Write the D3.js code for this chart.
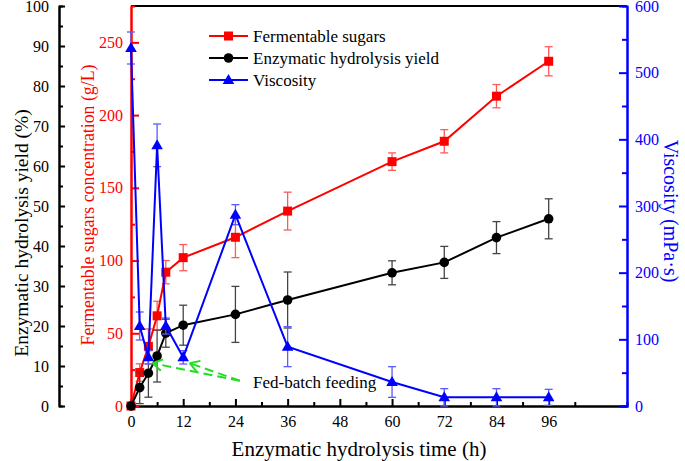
<!DOCTYPE html>
<html><head><meta charset="utf-8">
<script src="https://cdn.jsdelivr.net/npm/d3@7"></script>
<style>body{margin:0;background:#fff}svg{display:block}</style>
</head><body><div id="c"></div>
<script>
const times = [0, 2, 4, 6, 8, 12, 24, 36, 60, 72, 84, 96];
const sugars = [0, 23, 41, 62, 92, 102, 116, 134, 168, 182, 213, 237];
const sugarsErr = [0, 6, 12, 10, 8, 9, 14, 13, 6, 8, 8, 10];
const yieldVals = [0, 4.6, 8.2, 12.5, 18.2, 20.2, 22.9, 26.5, 33.3, 35.9, 42.1, 46.8];
const yieldErr = [0, 4, 6, 6.5, 3.5, 5, 7, 7, 3, 4, 4, 5];
const viscosity = [537, 120, 73, 391, 120, 73, 287, 89, 36, 13, 13, 13];
const viscosityErr = [24, 21, 10, 32, 12, 10, 15, 30, 23, 13, 13, 12];
const xTicks = [0, 12, 24, 36, 48, 60, 72, 84, 96];
const yieldTicks = [0,10,20,30,40,50,60,70,80,90,100];
const sugarTicks = [0,50,100,150,200,250];
const viscTicks = [0,100,200,300,400,500,600];
const legendNames = ["Fermentable sugars", "Enzymatic hydrolysis yield", "Viscosity"];
const annotation = "Fed-batch feeding";

const FONT = 'Liberation Serif, DejaVu Serif, Noto Serif, Times, serif';
const W = 685, H = 461;
const L = 131, R = 627, T = 6, B = 406;
const svg = d3.select("#c").append("svg").attr("width", W).attr("height", H)
  .attr("font-family", FONT);

const x = d3.scaleLinear().domain([0, 114]).range([L, R]);
const yY = d3.scaleLinear().domain([0, 100]).range([B, T]);
const yS = d3.scaleLinear().domain([0, 275]).range([B, T]);
const yV = d3.scaleLinear().domain([0, 600]).range([B, T]);

const RED = "#ff0000", BLUE = "#0000ff", BLACK = "#000";

function styleAxis(g, color, fs) {
  g.attr("font-family", FONT).attr("font-size", fs);
  g.selectAll("path.domain").attr("stroke", color).attr("stroke-width", 2);
  g.selectAll(".tick line").attr("stroke", color).attr("stroke-width", 2);
  g.selectAll(".tick text").attr("fill", color).attr("font-family", FONT).attr("font-size", fs);
}

svg.append("line").attr("x1", L).attr("x2", R).attr("y1", T).attr("y2", T).attr("stroke", BLACK).attr("stroke-width", 2);

const gxm = svg.append("g").attr("transform", `translate(0,${B})`)
  .call(d3.axisBottom(x).tickValues(d3.range(6, 114, 12)).tickSize(-4).tickFormat(""));
styleAxis(gxm, BLACK, 16);
const gx = svg.append("g").attr("transform", `translate(0,${B})`)
  .call(d3.axisBottom(x).tickValues(xTicks).tickSize(-7).tickSizeOuter(0));
gx.selectAll(".tick text").attr("y", 10);
styleAxis(gx, BLACK, 16);

const AX = 59;
const gym = svg.append("g").attr("transform", `translate(${AX},0)`)
  .call(d3.axisLeft(yY).tickValues(d3.range(5, 100, 10)).tickSize(-4).tickFormat(""));
styleAxis(gym, BLACK, 16);
const gy = svg.append("g").attr("transform", `translate(${AX},0)`)
  .call(d3.axisLeft(yY).tickValues(yieldTicks).tickSize(-6).tickSizeOuter(0));
gy.selectAll(".tick text").attr("x", -10);
styleAxis(gy, BLACK, 16);

const gsm = svg.append("g").attr("transform", `translate(${L},0)`)
  .call(d3.axisLeft(yS).tickValues(d3.range(25, 275, 50)).tickSize(-4).tickFormat(""));
styleAxis(gsm, RED, 16);
const gs = svg.append("g").attr("transform", `translate(${L},0)`)
  .call(d3.axisLeft(yS).tickValues(sugarTicks).tickSize(-8).tickSizeOuter(0));
gs.selectAll(".tick text").attr("x", -8);
styleAxis(gs, RED, 16);

const gvm = svg.append("g").attr("transform", `translate(${R},0)`)
  .call(d3.axisRight(yV).tickValues(d3.range(50, 600, 100)).tickSize(-5).tickFormat(""));
styleAxis(gvm, BLUE, 16);
const gv = svg.append("g").attr("transform", `translate(${R},0)`)
  .call(d3.axisRight(yV).tickValues(viscTicks).tickSize(-8).tickSizeOuter(0));
gv.selectAll(".tick text").attr("x", 8);
styleAxis(gv, BLUE, 16);

function title(tr, txt, color, fs) {
  svg.append("text").attr("transform", tr).attr("text-anchor", "middle")
    .attr("dominant-baseline", "central").attr("fill", color)
    .attr("font-size", fs).attr("font-family", FONT).text(txt);
}
title(`translate(359,449)`, "Enzymatic hydrolysis time (h)", BLACK, 21);
title(`translate(21,233) rotate(-90)`, "Enzymatic hydrolysis yield (%)", BLACK, 19.5);
title(`translate(88,205) rotate(-90)`, "Fermentable sugars concentration (g/L)", RED, 17.8);
title(`translate(671,211) rotate(90)`, "Viscosity (mPa·s)", BLUE, 20);

function series(vals, errs, yScale, color, errColor, marker) {
  const pts = times.map((t, i) => ({ t, v: vals[i], e: errs[i] }));
  const g = svg.append("g");
  const eg = g.append("g").attr("stroke", errColor).attr("stroke-width", 1.3);
  pts.filter(d => d.e > 0).forEach(d => {
    const cx = x(d.t), y1 = yScale(d.v - d.e), y2 = yScale(d.v + d.e);
    eg.append("line").attr("x1", cx).attr("x2", cx).attr("y1", y1).attr("y2", y2);
    eg.append("line").attr("x1", cx - 4).attr("x2", cx + 4).attr("y1", y1).attr("y2", y1);
    eg.append("line").attr("x1", cx - 4).attr("x2", cx + 4).attr("y1", y2).attr("y2", y2);
  });
  g.append("path").datum(pts).attr("fill", "none").attr("stroke", color).attr("stroke-width", 2)
    .attr("d", d3.line().x(d => x(d.t)).y(d => yScale(d.v)));
  g.selectAll(".m").data(pts).enter().append("path")
    .attr("transform", d => `translate(${x(d.t)},${yScale(d.v)})`)
    .attr("d", marker).attr("fill", color);
}
const sq = d3.symbol(d3.symbolSquare, 81)();
const circ = d3.symbol(d3.symbolCircle, 72)();
const tri = "M0,-6L5.8,4L-5.8,4Z";

series(sugars, sugarsErr, yS, RED, "#ff5a5a", sq);
series(yieldVals, yieldErr, yY, BLACK, "#444", circ);
series(viscosity, viscosityErr, yV, BLUE, "#5a5aff", tri);

const lg = svg.append("g");
const legColors = [RED, BLACK, BLUE];
const legMarkers = [sq, circ, tri];
legendNames.forEach((n, i) => {
  const yy = 36 + i * 22;
  lg.append("line").attr("x1", 209).attr("x2", 248).attr("y1", yy).attr("y2", yy)
    .attr("stroke", legColors[i]).attr("stroke-width", 2);
  lg.append("path").attr("transform", `translate(228.5,${yy})`).attr("d", legMarkers[i]).attr("fill", legColors[i]);
  lg.append("text").attr("x", 253).attr("y", yy).attr("dominant-baseline", "central")
    .attr("font-size", 17).attr("font-family", FONT).text(n);
});

const GREEN = "#22dd22";
const tail = [x(25), yY(6.3)];
const tips = [[x(5), yY(10.7)], [x(13.5), yY(10.7)]];
const ag = svg.append("g").attr("stroke", GREEN).attr("stroke-width", 2).attr("fill", "none");
tips.forEach(tp => {
  ag.append("line").attr("x1", tail[0]).attr("y1", tail[1]).attr("x2", tp[0]).attr("y2", tp[1])
    .attr("stroke-dasharray", "9,5");
  const ang = Math.atan2(tail[1] - tp[1], tail[0] - tp[0]);
  [0.55, -0.55].forEach(da => {
    ag.append("line").attr("x1", tp[0]).attr("y1", tp[1])
      .attr("x2", tp[0] + 11 * Math.cos(ang + da)).attr("y2", tp[1] + 11 * Math.sin(ang + da));
  });
});
svg.append("text").attr("x", 253).attr("y", 382).attr("dominant-baseline", "central")
  .attr("font-size", 17).attr("font-family", FONT).text(annotation);
</script></body></html>
